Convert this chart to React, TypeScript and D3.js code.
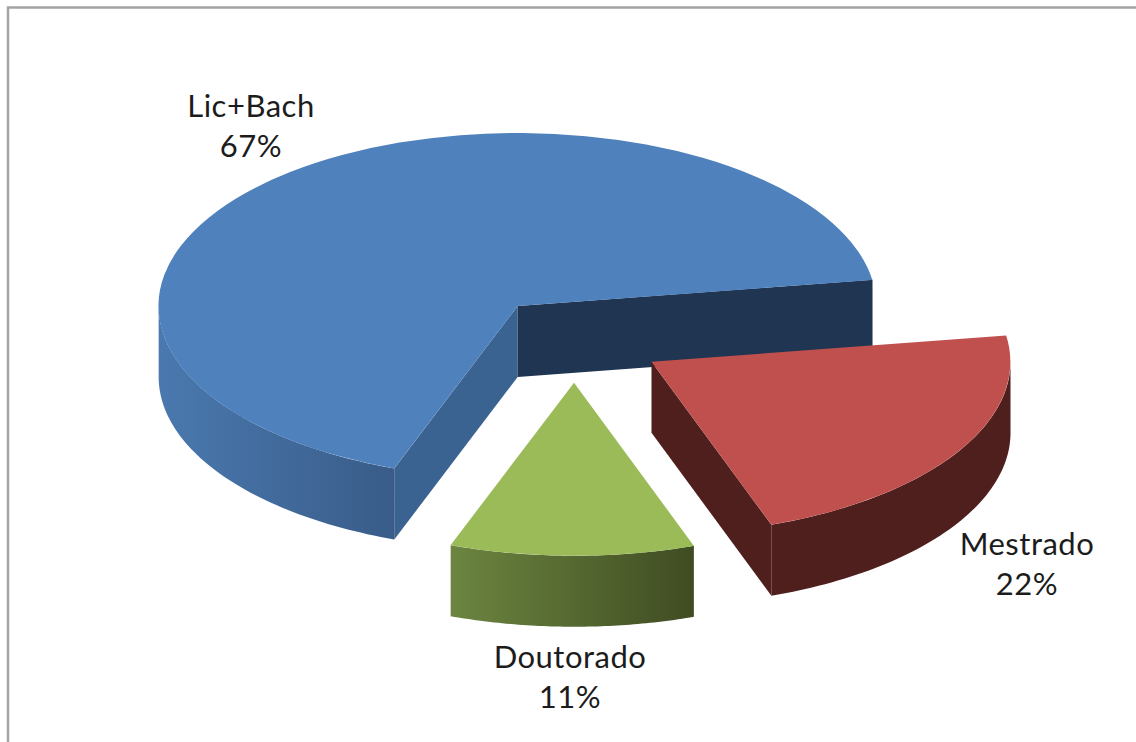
import React from "react";
import * as d3 from "d3";

// Exploded 3D pie of degree levels
const categories = ["Lic+Bach", "Mestrado", "Doutorado"];
const shares = [67, 22, 11];

const topColors = ["#4F81BD", "#C0504D", "#9BBB59"];
const wallStops = [
  ["#4A79AF", "#395C89"],
  ["#4F1F1D", "#4F1F1D"],
  ["#6C8540", "#3F4C22"],
];
const startFaceColors = ["#3A6391", "#4F1F1D", "#4F6228"];
const endFaceColors = ["#1F3552", "#4F1F1D", "#4F6228"];
const labelCenters: [number, number][] = [
  [251, 117],
  [1027, 555],
  [570, 668],
];

const WIDTH = 1136;
const HEIGHT = 742;
const CX = 574.5;
const CY = 339.5;
const RX = 359;
const RY = 173;
const DEPTH = 71;
const EXPLODE = 0.25;
const FIRST_ANGLE = (200.1 * Math.PI) / 180;
const LINE_GAP = 40;

const project = (a: number, ox: number, oy: number, dz = 0): [number, number] => [
  ox + RX * Math.sin(a),
  oy - RY * Math.cos(a) + dz,
];

const polyline = d3.line<[number, number]>();

// Front-facing part of the rim lies between 90deg and 270deg, modulo a full turn.
function wallPath(a0: number, a1: number, ox: number, oy: number): string | null {
  const turn = 2 * Math.PI;
  for (const k of [0, 1]) {
    const lo = Math.max(a0, Math.PI / 2 + k * turn);
    const hi = Math.min(a1, (3 * Math.PI) / 2 + k * turn);
    if (hi > lo) {
      const samples = d3.range(0, 61).map((i) => lo + ((hi - lo) * i) / 60);
      const upper = samples.map((a) => project(a, ox, oy));
      const lower = samples.slice().reverse().map((a) => project(a, ox, oy, DEPTH));
      return polyline([...upper, ...lower]) + "Z";
    }
  }
  return null;
}

function facePath(a: number, ox: number, oy: number): string {
  return (
    polyline([
      [ox, oy],
      project(a, ox, oy),
      project(a, ox, oy, DEPTH),
      [ox, oy + DEPTH],
    ]) + "Z"
  );
}

export default function App() {
  const arcs = d3
    .pie<number>()
    .sort(null)
    .startAngle(FIRST_ANGLE)
    .endAngle(FIRST_ANGLE + 2 * Math.PI)(shares);
  const unitArc = d3.arc<d3.PieArcDatum<number>>().innerRadius(0).outerRadius(1);

  const slices = arcs.map((d, i) => {
    const mid = (d.startAngle + d.endAngle) / 2;
    const ox = CX + EXPLODE * RX * Math.sin(mid);
    const oy = CY - EXPLODE * RY * Math.cos(mid);
    return { d, i, ox, oy };
  });
  // Back slice first; the front slices overlap it.
  const drawOrder = [0, 2, 1];

  return (
    <svg
      width={WIDTH}
      height={HEIGHT}
      style={{ position: "absolute", left: 0, top: 0, background: "#fff" }}
    >
      <defs>
        {wallStops.map((stops, i) => (
          <linearGradient key={i} id={`wall-${i}`} x1="0" x2="1" y1="0" y2="0">
            <stop offset="0" stopColor={stops[0]} />
            <stop offset="1" stopColor={stops[1]} />
          </linearGradient>
        ))}
      </defs>

      <path
        d={`M${WIDTH},7.5H8V${HEIGHT}`}
        fill="none"
        stroke="#a4a4a4"
        strokeWidth={2.5}
      />

      {drawOrder.map((idx) => {
        const { d, i, ox, oy } = slices[idx];
        const wall = wallPath(d.startAngle, d.endAngle, ox, oy);
        return (
          <g key={categories[i]}>
            {Math.sin(d.startAngle) < 0 && (
              <path d={facePath(d.startAngle, ox, oy)} fill={startFaceColors[i]} />
            )}
            {Math.sin(d.endAngle) > 0 && (
              <path d={facePath(d.endAngle, ox, oy)} fill={endFaceColors[i]} />
            )}
            {wall && <path d={wall} fill={`url(#wall-${i})`} />}
            <path
              d={unitArc(d) ?? ""}
              fill={topColors[i]}
              transform={`translate(${ox},${oy}) scale(${RX},${RY})`}
            />
          </g>
        );
      })}

      {categories.map((name, i) => (
        <text
          key={name}
          textAnchor="middle"
          fontFamily="Lato, 'Open Sans', sans-serif"
          fontSize={31}
          letterSpacing={0.5}
          fill="#1c1c1c"
        >
          <tspan x={labelCenters[i][0]} y={labelCenters[i][1]}>
            {name}
          </tspan>
          <tspan x={labelCenters[i][0]} y={labelCenters[i][1] + LINE_GAP}>
            {shares[i]}%
          </tspan>
        </text>
      ))}
    </svg>
  );
}
